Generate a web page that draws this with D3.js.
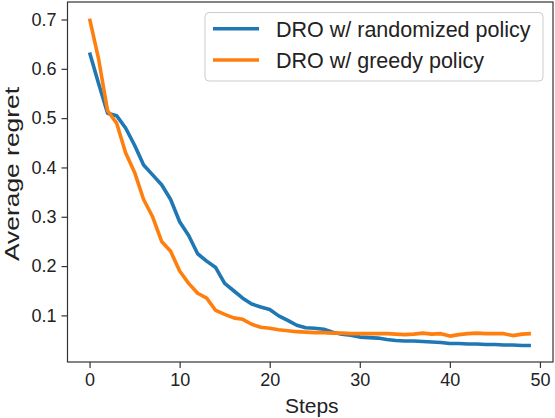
<!DOCTYPE html>
<html><head><meta charset="utf-8">
<script src="https://cdn.jsdelivr.net/npm/d3@7"></script>
<style>
html,body{margin:0;padding:0;background:#fff;}
text{font-family:"Liberation Sans",Arial,sans-serif;fill:#222;}
</style></head>
<body><svg id="c" width="555" height="418"></svg>
<script>
const steps = d3.range(0, 50);
const randomized = [0.633,0.57,0.51,0.505,0.48,0.445,0.405,0.385,0.365,0.335,
  0.29,0.262,0.225,0.21,0.197,0.165,0.15,0.135,0.123,0.117,
  0.112,0.099,0.09,0.08,0.075,0.074,0.072,0.066,0.062,0.06,
  0.056,0.055,0.054,0.051,0.049,0.048,0.048,0.047,0.046,0.045,
  0.043,0.043,0.042,0.042,0.041,0.041,0.04,0.04,0.039,0.039];
const greedy = [0.702,0.62,0.515,0.49,0.43,0.39,0.335,0.3,0.25,0.23,
  0.19,0.165,0.145,0.135,0.11,0.102,0.095,0.092,0.082,0.076,
  0.074,0.071,0.069,0.067,0.066,0.065,0.065,0.064,0.064,0.063,
  0.063,0.063,0.063,0.063,0.062,0.061,0.062,0.064,0.062,0.063,
  0.058,0.061,0.063,0.064,0.063,0.063,0.063,0.059,0.062,0.063];
const seriesNames = ["DRO w/ randomized policy","DRO w/ greedy policy"];
const colors = ["#1f77b4","#ff7f0e"];
const xTicks = [0,10,20,30,40,50];
const yTicks = [0.1,0.2,0.3,0.4,0.5,0.6,0.7];

const svg = d3.select("#c");
const L=67.5, R=553, T=2, B=362;
const x = d3.scaleLinear().domain([-2.45,51.45]).range([L,R]);
const y = d3.scaleLinear().domain([0.0055,0.7355]).range([B,T]);

const line = d3.line().x((d,i)=>x(steps[i])).y(d=>y(d));
[randomized, greedy].forEach((s,k)=>{
  svg.append("path").datum(s).attr("d",line).attr("fill","none")
    .attr("stroke",colors[k]).attr("stroke-width",3.6).attr("stroke-linejoin","round");
});

// frame
svg.append("rect").attr("x",L).attr("y",T).attr("width",R-L).attr("height",B-T)
  .attr("fill","none").attr("stroke","#333").attr("stroke-width",1.2);

const xa = svg.append("g").attr("transform",`translate(0,${B})`)
  .call(d3.axisBottom(x).tickValues(xTicks).tickSize(6).tickPadding(5).tickFormat(d3.format("d")));
const ya = svg.append("g").attr("transform",`translate(${L},0)`)
  .call(d3.axisLeft(y).tickValues(yTicks).tickSize(6).tickPadding(5).tickFormat(d3.format(".1f")));
[xa,ya].forEach(a=>{
  a.select(".domain").remove();
  a.selectAll(".tick line").attr("stroke","#333").attr("stroke-width",1.2);
  a.selectAll(".tick text").attr("font-size",18).attr("fill","#222")
    .attr("font-family","Liberation Sans, Arial, sans-serif");
});

svg.append("text").attr("x",(x(0)+x(50))/2 - 3).attr("y",413).attr("text-anchor","middle")
  .attr("font-size",21).text("Steps");
svg.append("text").attr("transform",`translate(19,174) rotate(-90)`).attr("text-anchor","middle")
  .attr("font-size",21).attr("textLength",174).attr("lengthAdjust","spacingAndGlyphs")
  .text("Average regret");

// legend
const lg = svg.append("g");
lg.append("rect").attr("x",205).attr("y",12.5).attr("width",338).attr("height",68.5)
  .attr("rx",4).attr("fill","#fff").attr("fill-opacity",0.8).attr("stroke","#ccc").attr("stroke-width",1);
seriesNames.forEach((n,i)=>{
  const yy = 28.7 + i*31.3;
  lg.append("line").attr("x1",213).attr("x2",259).attr("y1",yy).attr("y2",yy)
    .attr("stroke",colors[i]).attr("stroke-width",3.6);
  lg.append("text").attr("x",276).attr("y",yy+8).attr("font-size",21.5).text(n);
});
</script></body></html>
